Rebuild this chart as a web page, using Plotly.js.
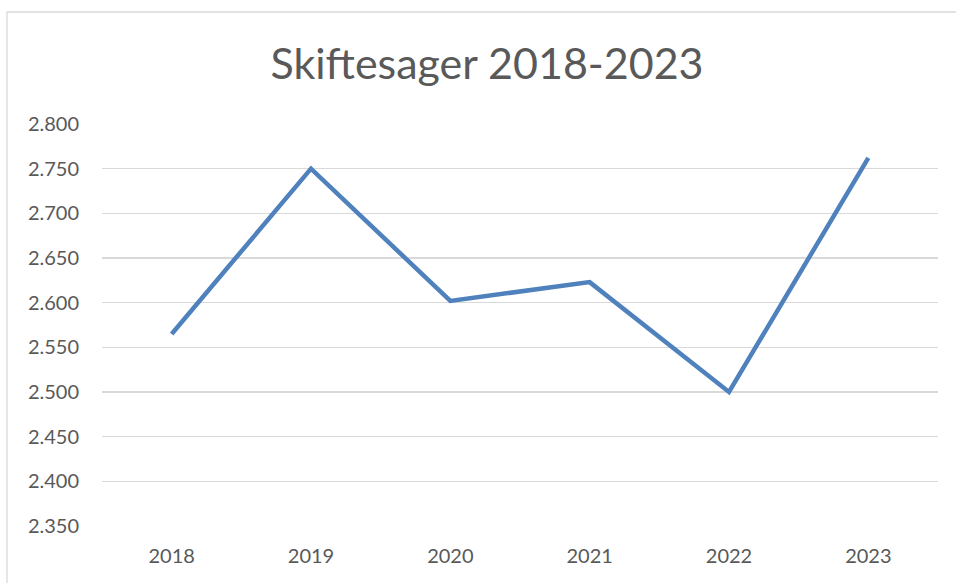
<!DOCTYPE html>
<html>
<head>
<meta charset="utf-8">
<script src="https://cdn.plot.ly/plotly-3.0.1.min.js"></script>
<style>
html,body{margin:0;padding:0;background:#fff;}
#chart{width:956px;height:583px;}
</style>
</head>
<body>
<div id="chart"></div>
<script>
const years = ['2018','2019','2020','2021','2022','2023'];
const cases = [2565, 2750, 2602, 2623, 2500, 2762];
const yTicks = [2350, 2400, 2450, 2500, 2550, 2600, 2650, 2700, 2750, 2800];

const W = 956, H = 583;
const mL = 102, mR = 18, mT = 124, mB = 57;
const pw = W - mL - mR, ph = H - mT - mB;
const px = x => (x - mL) / pw;
const py = y => (H - mB - y) / ph;

const font = 'Lato, "Open Sans", "Liberation Sans", sans-serif';

Plotly.newPlot('chart', [{
  x: years,
  y: cases,
  type: 'scatter',
  mode: 'lines',
  line: {color: '#4F81BD', width: 4.5},
  hoverinfo: 'x+y'
}], {
  width: W, height: H,
  margin: {l: mL, r: mR, t: mT, b: mB},
  paper_bgcolor: '#fff',
  plot_bgcolor: '#fff',
  separators: ',.',
  showlegend: false,
  title: {
    text: 'Skiftesager 2018-2023',
    font: {family: font, size: 43, color: '#595959'},
    x: 487 / W, xanchor: 'center',
    y: 1 - 64 / H, yanchor: 'middle'
  },
  xaxis: {
    type: 'category',
    range: [-0.5, 5.5],
    showgrid: false,
    showline: false,
    zeroline: false,
    ticks: '',
    ticklabelstandoff: 16,
    tickfont: {family: font, size: 20, color: '#595959'}
  },
  yaxis: {
    range: [2350, 2800],
    tickvals: yTicks,
    tickformat: ',d',
    showgrid: true,
    gridcolor: '#D9D9D9',
    gridwidth: 1.3,
    zeroline: false,
    showline: false,
    ticks: '',
    ticklabelstandoff: 22,
    tickfont: {family: font, size: 20, color: '#595959'}
  },
  shapes: [{
    type: 'rect', xref: 'paper', yref: 'paper',
    x0: px(7), x1: px(960), y0: py(590), y1: py(12),
    line: {color: '#D9D9D9', width: 1.3},
    fillcolor: 'rgba(0,0,0,0)',
    layer: 'below'
  }]
}, {displayModeBar: false, staticPlot: true});
</script>
</body>
</html>
